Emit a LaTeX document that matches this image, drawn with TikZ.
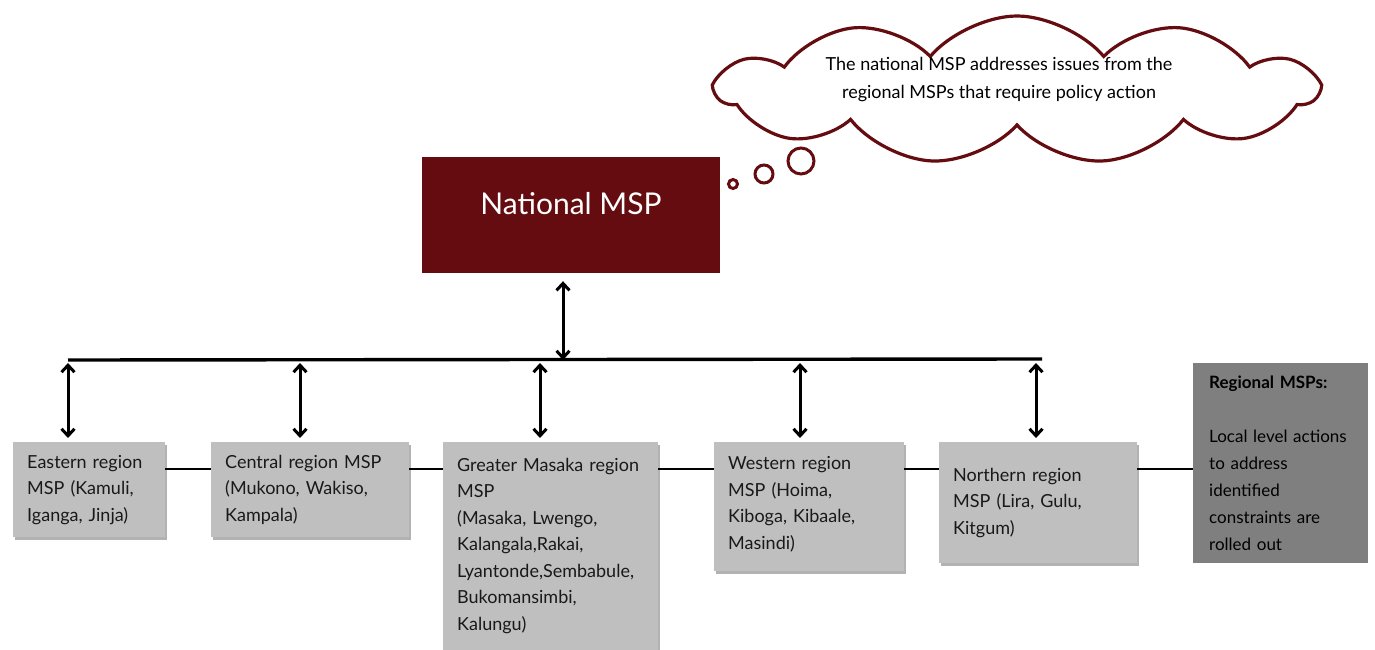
\documentclass[tikz,border=0pt]{standalone}
\usepackage{fontspec}
\setmainfont{Lato}
\usetikzlibrary{positioning,arrows.meta,shapes.symbols,shadows}
\definecolor{mspred}{HTML}{640C10}
\definecolor{regiongray}{HTML}{BFBFBF}
\definecolor{notegray}{HTML}{7F7F7F}
\tikzset{
  region/.style={rectangle,fill=regiongray,anchor=north west,align=left,
    inner xsep=14pt,inner ysep=0pt,text=black!90,
    font=\fontsize{18}{26.5}\selectfont,
    drop shadow={shadow xshift=1.5pt,shadow yshift=-3pt,opacity=0.5,fill=black!60}},
  summary/.style={rectangle,fill=notegray,anchor=north west,align=left,
    inner xsep=16pt,inner ysep=0pt,text=black,
    font=\fontsize{17}{27}\selectfont},
  national/.style={rectangle,fill=mspred,text=white,inner sep=0pt,
    minimum width=298pt,text height=57pt,text depth=59pt,
    font=\fontsize{30}{36}\selectfont},
  thought/.style={cloud,draw=mspred,line width=3.2pt,fill=white,
    cloud puffs=11,cloud puff arc=100,aspect=4,
    minimum width=600pt,minimum height=148pt,
    font=\fontsize{18}{28}\selectfont},
  bubble/.style={circle,draw=mspred,line width=3pt,inner sep=0pt},
  updown/.style={{Straight Barb[length=7pt,width=13pt]}-{Straight Barb[length=7pt,width=13pt]},
    line width=3pt},
  bus/.style={line width=3.4pt},
  link/.style={line width=2.8pt}
}
\begin{document}
\begin{tikzpicture}[x=1pt,y=-1pt]
  \useasboundingbox (0,0) rectangle (1375,650);
  \node[thought] (note) at (1017,90)
    {\raisebox{7pt}[0pt][0pt]{\makebox[0pt]{\hspace*{-36pt}\begin{tabular}{c}The national MSP addresses issues from the\\regional MSPs that require policy action\end{tabular}}}};
  \node[bubble,minimum size=9pt] (b1) at (733,184) {};
  \node[bubble,minimum size=18pt] (b2) at (764,174) {};
  \node[bubble,minimum size=26pt] (b3) at (801,161) {};
  \node[national] (national) at (571,215) {National MSP};

  \node[region,text width=124pt,minimum height=95pt] (eastern) at (13,442)
    {Eastern region\\MSP (Kamuli,\\Iganga, Jinja)};
  \node[region,text width=170pt,minimum height=95pt] (central) at (211,442)
    {Central region MSP\\(Mukono, Wakiso,\\Kampala)};
  \node[region,text width=187pt,minimum height=230pt] (masaka) at (443,442)
    {Greater Masaka region\\MSP\\(Masaka, Lwengo,\\Kalangala,Rakai,\\Lyantonde,Sembabule,\\Bukomansimbi,\\Kalungu)\\\mbox{}};
  \node[region,text width=162pt,minimum height=129pt] (western) at (714,442)
    {Western region\\MSP (Hoima,\\Kiboga, Kibaale,\\Masindi)\\[-19pt]\mbox{}};
  \node[region,text width=170pt,minimum height=121pt] (northern) at (939,442)
    {Northern region\\MSP (Lira, Gulu,\\Kitgum)};
  \node[summary,text width=143pt,minimum height=200pt] (regional) at (1193,363)
    {\textbf{Regional MSPs:}\\[27pt]Local level actions\\to address\\identified\\constraints are\\rolled out};

  \coordinate (busL) at (68,360);
  \coordinate (busR) at (1042,359);
  \coordinate (row) at (0,469);
  \draw[bus] (busL) -- (busR);
  \draw[updown,shorten <=8pt] ([xshift=-8pt]national.south) -- (busL -| 563,0);
  \foreach \n/\x in {eastern/68,central/300,masaka/540,western/800,northern/1036}
    \draw[updown,shorten <=3pt,shorten >=4pt] (busL -| \x,0) -- (\n.north -| \x,0);
  \foreach \a/\b in {eastern/central,central/masaka,masaka/western,western/northern,northern/regional}
    \draw[link] (\a.east |- row) -- (\b.west |- row);
\end{tikzpicture}
\end{document}
